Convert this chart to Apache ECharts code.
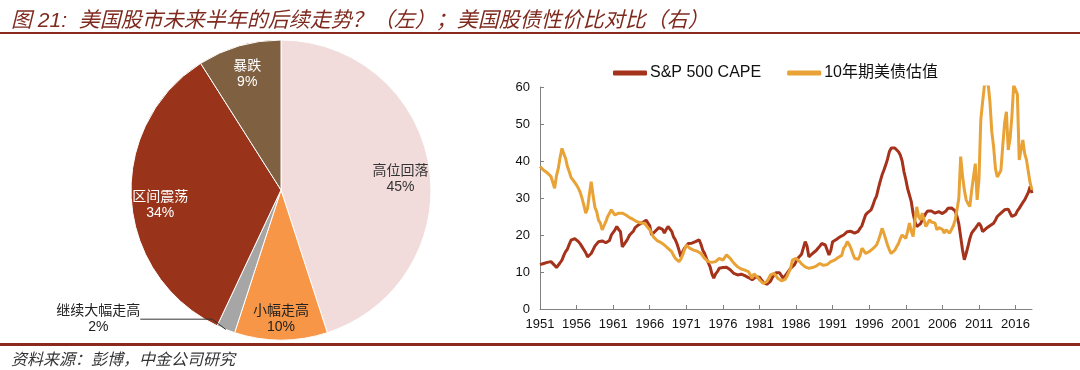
<!DOCTYPE html>
<html>
<head>
<meta charset="utf-8">
<script src="https://cdn.jsdelivr.net/npm/echarts@6/dist/echarts.min.js"></script>
<style>html,body{margin:0;padding:0;background:#fff}#c{width:1080px;height:370px}</style>
</head>
<body>
<div id="c"></div>
<script>
// ---- Pie data (left) ----
const pieNames = ['高位回落', '小幅走高', '继续大幅走高', '区间震荡', '暴跌'];
const pieValues = [45, 10, 2, 34, 9];

// ---- Line data (right), quarterly from 1951Q1 to 2018Q2 ----
const startYear = 1951;
const capeValues = [
  12.0, 12.2, 12.3, 12.6,  12.6, 12.7, 12.8, 12.5,  11.8, 11.2, 11.5, 12.5,  13.2, 14.5, 15.5, 16.2,
  17.5, 18.6, 19.1, 19.0,  18.5, 18.2, 17.6, 16.8,  16.0, 15.2, 14.1, 14.5,  15.0, 16.0, 17.0, 17.6,
  18.2, 18.6, 18.4, 18.2,  17.9, 17.7, 18.5, 20.0,  20.5, 21.4, 22.3, 21.5,  20.9, 16.8, 17.2, 18.2,
  19.0, 20.0, 20.5, 21.0,  22.0, 22.3, 22.8, 23.2,  23.4, 23.8, 24.0, 23.6,  22.5, 20.0, 20.5, 21.0,
  21.4, 22.0, 22.3, 21.5,  20.5, 21.5, 22.3, 21.8,  21.0, 19.5, 18.7, 17.5,  15.9, 14.1, 15.5, 16.4,
  17.0, 17.7, 17.5, 17.8,  18.0, 18.2, 18.5, 18.7,  17.5, 15.9, 15.0, 13.7,  12.5, 11.4, 9.5, 8.3,
  9.5, 10.1, 11.0, 10.8,   11.2, 11.4, 11.3, 11.0,  10.6, 10.2, 9.6, 9.4,    9.2, 9.3, 9.4, 9.2,
  9.0, 8.8, 8.5, 8.3,      7.9, 8.2, 8.7, 9.0,      8.6, 7.9, 7.3, 6.9,      6.7, 6.5, 7.5, 8.5,
  9.2, 9.8, 10.1, 9.8,     9.0, 8.3, 8.8, 9.6,      10.1, 11.0, 11.5, 11.9,  12.8, 13.7, 14.0, 14.8,
  16.5, 18.2, 17.0, 14.1,  14.5, 15.0, 15.3, 15.8,  16.4, 17.0, 17.7, 17.5,  17.3, 16.8, 14.6, 15.8,
  18.2, 18.5, 18.8, 19.1,  19.5, 19.8, 20.0, 20.5,  20.9, 20.9, 21.0, 20.9,  20.5, 20.2, 21.0, 21.8,
  22.5, 24.0, 25.4, 26.0,  26.5, 26.8, 28.0, 29.5,  30.5, 32.6, 34.5, 36.2,  37.5, 38.9, 40.5, 42.5,
  43.5, 43.9, 43.5, 43.0,  42.5, 41.6, 40.0, 37.1,  35.0, 32.5, 30.8, 29.0,  25.8, 23.6, 22.3, 21.8,
  23.0, 24.1, 25.0, 25.9,  26.5, 26.8, 26.5, 26.0,  25.9, 26.0, 26.3, 26.0,  25.8, 25.4, 26.5, 27.2,
  27.2, 27.3, 27.2, 26.5,  25.0, 23.0, 19.5, 16.0,  13.3, 15.0, 16.9, 19.0,  20.5, 21.2, 21.8, 22.5,
  23.2, 22.5, 20.9, 21.0,  21.8, 22.0, 22.5, 23.0,  23.2, 24.0, 25.0, 25.3,  25.9, 26.3, 26.8, 27.2,
  27.0, 26.5, 25.0, 25.3,  25.5, 26.5, 27.2, 28.0,  28.8, 29.5, 30.5, 31.5,  33.1, 31.3
];
const bondValues = [
  38.5, 38.0, 37.5, 37.1,  36.8, 36.3, 35.8, 35.5,  32.6, 36.0, 38.0, 41.0,  43.4, 42.0, 40.7, 38.5,
  37.1, 35.5, 34.9, 34.4,  33.5, 32.6, 31.5, 29.9,  28.0, 25.9, 27.2, 31.0,  34.4, 30.8, 27.5, 26.3,
  24.0, 23.2, 21.4, 22.5,  23.6, 25.0, 25.9, 26.8,  26.5, 25.4, 25.6, 25.9,  26.0, 25.9, 25.5, 25.4,
  25.0, 24.7, 24.5, 24.2,  23.8, 23.6, 23.4, 23.3,  23.2, 23.2, 22.8, 22.0,  21.4, 20.5, 19.5, 19.0,
  18.5, 18.2, 18.0, 17.7,  17.3, 16.8, 16.4, 16.0,  15.5, 14.5, 13.7, 13.2,  12.8, 13.5, 14.6, 16.0,
  17.3, 16.8, 16.4, 16.2,  15.9, 15.8, 15.6, 15.5,  15.0, 14.5, 13.7, 13.2,  12.8, 12.4, 12.6, 12.8,
  12.8, 13.2, 13.7, 13.5,  13.2, 13.5, 14.6, 14.2,  13.7, 13.0, 12.4, 12.0,  11.4, 11.0, 10.8, 10.6,
  10.5, 10.3, 10.1, 9.2,   8.3, 9.5, 9.2, 8.5,      7.9, 7.5, 6.9, 7.2,      7.4, 8.2, 9.2, 9.4,
  9.6, 9.0, 8.3, 8.0,      7.6, 7.4, 8.0, 8.8,      9.2, 11.0, 13.2, 13.7,   13.7, 13.5, 12.8, 12.2,
  12.0, 11.4, 11.2, 11.0,  11.0, 11.2, 11.4, 11.6,  11.4, 12.3, 12.0, 11.8,  11.9, 12.0, 12.4, 12.8,
  12.8, 13.2, 13.7, 13.9,  14.1, 14.5, 16.4, 17.0,  18.2, 17.5, 16.4, 15.0,  13.7, 13.2, 13.4, 14.5,
  16.4, 15.8, 15.0, 15.2,  15.5, 15.9, 16.3, 16.8,  17.3, 18.5, 20.0, 21.8,  20.5, 20.0, 17.3, 16.0,
  15.0, 15.3, 15.9, 16.8,  17.7, 19.0, 20.0, 19.6,  19.1, 21.0, 23.2, 21.0,  19.6, 24.0, 27.6, 25.0,
  24.1, 25.9, 24.0, 22.3,  22.3, 24.1, 23.5, 23.2,  23.2, 21.4, 22.0, 22.3,  21.5, 20.5, 21.4, 21.0,
  20.5, 20.0, 22.5, 24.1,  26.8, 30.0, 41.2, 36.0,  32.2, 29.5, 28.5, 27.7,  32.0, 35.7, 39.3, 29.5,
  35.0, 51.1, 56.0, 60.5,  61.0, 61.0, 56.0, 48.0,  43.9, 38.0, 35.7, 36.5,  37.5, 44.0, 50.2, 53.3,
  43.0, 46.0, 52.0, 60.5,  61.0, 58.0, 40.3, 43.0,  45.7, 42.0, 40.3, 37.0,  34.0, 32.2
];
const yTicks = { min: 0, max: 60, interval: 10 };

// quarter categories
const quarters = [];
for (let i = 0; i < capeValues.length; i++) {
  quarters.push((startYear + Math.floor(i / 4)) + 'Q' + (i % 4 + 1));
}
const everyFiveYears = (index) => index % 20 === 0;

const pieColors = ['#F2DCDB', '#F79646', '#A6A6A6', '#99341A', '#7F6040'];
const labelColors = ['#333333', '#222222', '#222222', '#ffffff', '#ffffff'];
const labelShiftY = [8, 8, 0, 8, 0];
const FONT = '"Liberation Sans", Arial, "Noto Sans CJK SC", sans-serif';

const pieData = pieNames.map((n, i) => ({ name: n, value: pieValues[i], itemStyle: { color: pieColors[i] } }));
const pieLabelData = pieNames.map((n, i) => {
  const d = { name: n, value: pieValues[i], label: { color: labelColors[i] } };
  if (n === '继续大幅走高') {
    d.label = { position: 'outside', color: labelColors[i], formatter: '{a|{b}}\n{a|{c}%}',
      rich: { a: { align: 'center', fontSize: 14, lineHeight: 16, color: labelColors[i] } } };
    d.labelLine = { show: true, length: 4, length2: 72, lineStyle: { color: '#333', width: 1 } };
  }
  return d;
});

function pieLabelLayout(p) {
  if (p.dataIndex === 2) {
    const r = p.labelRect;
    return { x: r.x + r.width / 2 - 7, y: r.y + r.height / 2 - 14, align: 'center', verticalAlign: 'middle' };
  }
  return { dy: labelShiftY[p.dataIndex] };
}

const chart = echarts.init(document.getElementById('c'), null, { renderer: 'canvas' });
chart.setOption({
  animation: false,
  backgroundColor: '#fff',
  textStyle: { fontFamily: FONT },
  title: [
    { text: '图 21:  美国股市未来半年的后续走势？（左）；美国股债性价比对比（右）', left: 6, top: 6,
      textStyle: { fontSize: 21, fontStyle: 'italic', fontWeight: 'normal', color: '#7F2A1E', fontFamily: FONT } },
    { text: '资料来源：彭博，中金公司研究', left: 6, top: 348,
      textStyle: { fontSize: 16, fontStyle: 'italic', fontWeight: 'normal', color: '#333', fontFamily: FONT } }
  ],
  graphic: [
    { type: 'rect', shape: { x: 0, y: 32, width: 1080, height: 2 }, style: { fill: '#8B2A1C' }, silent: true },
    { type: 'rect', shape: { x: 0, y: 343, width: 1080, height: 3 }, style: { fill: '#8B2A1C' }, silent: true }
  ],
  legend: {
    data: ['S&P 500 CAPE', '10年期美债估值'],
    left: 608, top: 60,
    icon: 'roundRect', itemWidth: 34, itemHeight: 5, itemGap: 26,
    textStyle: { fontSize: 16, color: '#111', fontFamily: FONT, padding: [0, 0, 0, -2] }
  },
  grid: { left: 540, right: 48, top: 87, bottom: 61 },
  xAxis: {
    type: 'category', data: quarters, boundaryGap: false,
    axisLine: { lineStyle: { color: '#808080', width: 1 } },
    axisTick: { inside: true, length: 4, interval: everyFiveYears, lineStyle: { color: '#808080' } },
    axisLabel: { interval: everyFiveYears, margin: 9, fontSize: 13, color: '#111',
      formatter: v => v.slice(0, 4) },
    splitLine: { show: false }
  },
  yAxis: {
    type: 'value', min: yTicks.min, max: yTicks.max, interval: yTicks.interval,
    axisLine: { show: true, lineStyle: { color: '#808080', width: 1 } },
    axisTick: { show: true, inside: true, length: 4, lineStyle: { color: '#808080' } },
    axisLabel: { margin: 10, fontSize: 13, color: '#111' },
    splitLine: { show: false }
  },
  series: [
    { type: 'pie', center: [281, 190], radius: [0, 150], startAngle: 90, clockwise: true,
      silent: true, label: { show: false }, labelLine: { show: false },
      itemStyle: { borderColor: '#fff', borderWidth: 1 }, data: pieData },
    { type: 'pie', center: [281, 190], radius: [86, 150], startAngle: 90, clockwise: true,
      silent: true, z: 3,
      itemStyle: { color: 'rgba(0,0,0,0)', borderWidth: 0 },
      label: { show: true, position: 'inside', formatter: '{b}\n{c}%', fontSize: 14, lineHeight: 16,
        fontFamily: FONT },
      labelLine: { show: false },
      labelLayout: pieLabelLayout,
      data: pieLabelData },
    { name: 'S&P 500 CAPE', type: 'line', data: capeValues, showSymbol: false, symbol: 'none',
      color: '#A5321B', lineStyle: { width: 3, color: '#A5321B' } },
    { name: '10年期美债估值', type: 'line', data: bondValues, showSymbol: false, symbol: 'none',
      color: '#E9A235', lineStyle: { width: 3, color: '#E9A235' } }
  ]
});
</script>
</body>
</html>
